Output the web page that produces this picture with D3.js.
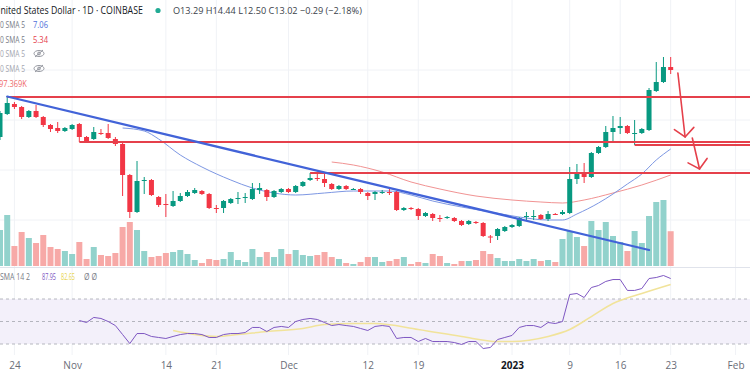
<!DOCTYPE html>
<html>
<head>
<meta charset="utf-8">
<script src="https://cdn.jsdelivr.net/npm/d3@7"></script>
<style>
  body { margin: 0; background: #fff; }
  svg { display: block; font-family: "Open Sans", Roboto, sans-serif; }
</style>
</head>
<body>
<svg id="chart" width="750" height="375"></svg>
<script>
// daily candles, first one is 2022-10-22
const startDay = '2022-10-22';
const opens = [10.32, 11.24, 11.64, 11.52, 11.12, 11.36, 11.12, 10.80, 10.68, 10.56,
  10.64, 10.84, 10.32, 10.24, 10.48, 10.48, 10.24, 10.04, 8.80, 7.32,
  8.58, 8.60, 7.92, 7.64, 7.56, 7.76, 7.96, 8.08, 8.16, 8.04,
  7.48, 7.48, 7.68, 7.86, 7.90, 7.84, 8.20, 8.20, 7.92, 8.12,
  8.24, 8.12, 8.36, 8.60, 8.68, 8.64, 8.44, 8.24, 8.36, 8.22,
  8.24, 8.08, 8.04, 8.08, 8.12, 8.12, 7.40, 7.48, 7.44, 7.16,
  7.24, 7.08, 7.10, 7.08, 6.96, 6.84, 6.92, 6.88, 6.34, 6.36,
  6.56, 6.72, 6.76, 7.12, 7.14, 7.20, 7.04, 7.24, 7.24, 7.28,
  8.64, 8.88, 8.72, 9.68, 9.92, 10.52, 10.68, 10.76, 10.46, 10.48,
  10.60, 12.16, 12.52, 13.12];
const highs = [11.36, 11.96, 11.72, 11.56, 11.40, 11.60, 11.16, 10.84, 10.92, 10.72,
  10.84, 10.88, 10.36, 10.72, 10.64, 10.84, 10.32, 10.08, 8.84, 9.36,
  8.72, 8.64, 7.96, 8.04, 8.16, 8.08, 8.20, 8.28, 8.20, 8.08,
  7.60, 7.80, 7.88, 8.12, 8.08, 8.48, 8.48, 8.24, 8.20, 8.28,
  8.28, 8.40, 8.56, 8.88, 8.88, 8.88, 8.48, 8.40, 8.40, 8.28,
  8.28, 8.12, 8.16, 8.20, 8.28, 8.16, 7.52, 7.52, 7.48, 7.32,
  7.28, 7.20, 7.16, 7.12, 7.00, 7.00, 6.96, 6.92, 6.40, 6.68,
  6.76, 6.84, 7.12, 7.32, 7.40, 7.24, 7.36, 7.28, 7.40, 9.12,
  9.24, 9.28, 9.72, 9.96, 10.76, 11.16, 11.12, 10.80, 11.00, 10.68,
  12.28, 13.32, 13.52, 13.52];
const lows = [10.20, 11.20, 11.44, 11.04, 11.08, 11.08, 10.72, 10.52, 10.48, 10.52,
  10.60, 10.12, 10.12, 10.20, 10.40, 10.24, 9.96, 7.96, 7.08, 7.28,
  8.04, 7.96, 7.52, 7.12, 7.52, 7.72, 7.92, 8.04, 8.00, 7.44,
  7.28, 7.28, 7.64, 7.64, 7.68, 7.80, 8.04, 7.76, 7.88, 8.08,
  8.08, 8.08, 8.32, 8.56, 8.56, 8.32, 8.20, 8.20, 8.20, 8.20,
  8.04, 7.80, 7.80, 8.04, 8.00, 7.36, 7.36, 7.40, 7.00, 7.12,
  6.96, 6.92, 7.04, 6.92, 6.76, 6.80, 6.84, 6.32, 6.08, 6.20,
  6.52, 6.68, 6.72, 7.00, 7.00, 7.00, 6.96, 7.20, 7.20, 7.24,
  8.44, 8.48, 8.68, 9.64, 9.88, 10.12, 10.44, 10.44, 10.00, 10.44,
  10.56, 12.12, 12.48, 12.84];
const closes = [11.28, 11.68, 11.52, 11.12, 11.36, 11.12, 10.80, 10.64, 10.56, 10.68,
  10.80, 10.32, 10.16, 10.52, 10.46, 10.28, 10.04, 8.80, 7.32, 8.56,
  8.60, 8.00, 7.60, 7.62, 7.76, 7.96, 8.12, 8.20, 8.04, 7.48,
  7.46, 7.76, 7.84, 7.88, 7.92, 8.24, 8.28, 7.92, 8.16, 8.24,
  8.12, 8.36, 8.52, 8.68, 8.66, 8.48, 8.24, 8.36, 8.24, 8.24,
  8.12, 7.96, 8.12, 8.12, 8.10, 7.40, 7.48, 7.46, 7.16, 7.28,
  7.08, 7.06, 7.12, 6.96, 6.80, 6.96, 6.88, 6.36, 6.32, 6.64,
  6.72, 6.80, 7.08, 7.16, 7.16, 7.04, 7.24, 7.22, 7.32, 8.64,
  8.88, 8.72, 9.68, 9.92, 10.52, 10.68, 10.76, 10.48, 10.48, 10.64,
  12.20, 12.52, 13.12, 13.00];
// volume in K
const volumes = [100.8, 142.8, 56, 95.2, 78.4, 64.4, 86.8, 53.2, 47.6, 42,
  33.6, 67.2, 19.6, 53.2, 30.8, 28, 36.4, 109.2, 123.2, 100.8,
  42, 25.2, 28, 36.4, 39.2, 44.8, 33.6, 16.8, 8.4, 19.6,
  16.8, 19.6, 39.2, 16.8, 11.2, 47.6, 25.2, 39.2, 25.2, 47.6,
  33.6, 44.8, 30.8, 28, 30.8, 39.2, 25.2, 19.6, 8.4, 5.6,
  11.2, 25.2, 25.2, 11.2, 14, 19.6, 25.2, 5.6, 11.2, 8.4,
  33.6, 28, 8.4, 5.6, 14, 14, 16.8, 42, 33.6, 22.4,
  14, 14, 19.6, 14, 19.6, 14, 16.8, 11.2, 75.6, 98,
  81.2, 56, 126, 100.8, 123.2, 84, 67.2, 42, 98, 64.4,
  140, 179.2, 184.8, 97.4];

// moving averages
const blueMaDates = ['2022-11-08', '2022-11-11', '2022-11-13', '2022-11-16', '2022-11-19', '2022-11-23',
  '2022-11-26', '2022-11-29', '2022-12-02', '2022-12-06', '2022-12-10', '2022-12-15', '2022-12-18',
  '2022-12-21', '2022-12-25', '2022-12-29', '2023-01-02', '2023-01-06', '2023-01-08', '2023-01-10',
  '2023-01-13', '2023-01-15', '2023-01-17', '2023-01-19', '2023-01-21', '2023-01-23'];
const blueMaValues = [10.68, 10.56, 10.24, 9.60, 9.12, 8.60, 8.28, 8.08, 8.00, 8.08, 8.16, 8.16, 8.00,
  7.76, 7.52, 7.32, 7.12, 7.00, 7.00, 7.24, 7.68, 8.04, 8.44, 8.84, 9.40, 9.84];
const redMaDates = ['2022-12-07', '2022-12-10', '2022-12-14', '2022-12-18', '2022-12-22', '2022-12-27',
  '2023-01-01', '2023-01-05', '2023-01-08', '2023-01-11', '2023-01-15', '2023-01-19', '2023-01-23'];
const redMaValues = [9.32, 9.20, 8.92, 8.52, 8.24, 7.96, 7.80, 7.72, 7.68, 7.80, 8.08, 8.40, 8.80];

// drawings
const trendDates = ['2022-10-23', '2023-01-20'];
const trendPrices = [11.94, 5.80];
const levelStarts = ['2022-10-23', '2022-11-02', '2023-01-18', '2022-12-04'];
const levelPrices = [11.92, 10.12, 10.00, 8.88];
const arrowFromDates = ['2023-01-24', '2023-01-26'];
const arrowFromPrices = [12.88, 10.28];
const arrowToDates = ['2023-01-25', '2023-01-27'];
const arrowToPrices = [10.32, 9.04];

// RSI pane, daily from 2022-11-02
const rsiStart = '2022-11-02';
const rsiValues = [50.9, 49.1, 53.6, 52.7, 50.0, 46.4, 38.4, 30.4, 39.3, 39.3,
  36.7, 35.8, 34.9, 36.7, 38.4, 39.3, 39.3, 38.4, 35.8, 35.8,
  38.4, 39.3, 39.3, 40.2, 44.7, 44.7, 41.1, 44.7, 45.6, 44.7,
  50.0, 51.8, 52.7, 51.8, 49.1, 46.4, 47.3, 46.4, 45.6, 43.8,
  42.0, 45.6, 46.4, 45.6, 34.9, 35.8, 35.8, 32.2, 34.9, 32.2,
  32.2, 32.2, 31.3, 29.6, 32.2, 32.2, 26.0, 26.9, 34.0, 35.8,
  37.6, 44.7, 46.4, 46.4, 44.7, 49.1, 48.2, 50.0, 74.0, 74.9,
  71.3, 80.2, 82.0, 85.6, 87.3, 87.3, 77.6, 77.6, 79.3, 88.2,
  89.1, 90.9, 88.2];
const rsiMaDates = ['2022-11-15', '2022-11-21', '2022-11-24', '2022-11-28', '2022-12-03', '2022-12-06',
  '2022-12-10', '2022-12-13', '2022-12-19', '2022-12-25', '2022-12-30', '2023-01-01', '2023-01-06',
  '2023-01-09', '2023-01-12', '2023-01-15', '2023-01-19', '2023-01-23'];
const rsiMaValues = [42.0, 36.7, 38.4, 41.1, 43.8, 47.3, 48.2, 48.2, 42.9, 36.7, 32.2, 32.2, 36.7,
  42.9, 54.4, 66.0, 74.9, 82.9];
const rsiLevels = [70, 50, 30];

const tickDates = ['2022-10-24', '2022-11-01', '2022-11-14', '2022-11-21', '2022-12-01', '2022-12-12',
  '2022-12-19', '2023-01-01', '2023-01-09', '2023-01-16', '2023-01-23', '2023-02-01'];
const tickLabels = ['24', 'Nov', '14', '21', 'Dec', '12', '19', '2023', '9', '16', '23', 'Feb'];

const parse = d3.utcParse('%Y-%m-%d');
const dates = closes.map((_, i) => d3.utcDay.offset(parse(startDay), i));
const candles = dates.map((d, i) => ({
  date: d, o: opens[i], h: highs[i], l: lows[i], c: closes[i], v: volumes[i]
}));

const upColor = '#089981';
const downColor = '#f23645';
const W = 750, H = 375;
const paneBottom = 266;

const svg = d3.select('#chart');

const x = d3.scaleUtc()
  .domain([parse('2022-10-22'), parse('2023-02-03')])
  .range([0, W]);
const y = d3.scaleLinear().domain([0, 15.8]).range([395, 0]);
const yVol = d3.scaleLinear().domain([0, 280]).range([paneBottom, 166]);
const yRsi = d3.scaleLinear().domain([30, 70]).range([344, 299]);

// grid
const ticks = tickDates.map(parse);
svg.append('g')
  .selectAll('line')
  .data(ticks)
  .enter()
  .append('line')
  .attr('x1', d => x(d)).attr('x2', d => x(d))
  .attr('y1', 0).attr('y2', 355)
  .attr('stroke', '#f0f2f6');
svg.append('g')
  .selectAll('line')
  .data([13, 11, 9, 7])
  .enter()
  .append('line')
  .attr('x1', 0).attr('x2', W)
  .attr('y1', d => y(d)).attr('y2', d => y(d))
  .attr('stroke', '#f0f2f6');

svg.append('clipPath').attr('id', 'pane')
  .append('rect').attr('x', 0).attr('y', 0).attr('width', W).attr('height', paneBottom);

const pane = svg.append('g').attr('clip-path', 'url(#pane)');

// volume
const barW = 6;
pane.append('g')
  .selectAll('rect')
  .data(candles)
  .enter()
  .append('rect')
  .attr('x', d => x(d.date) - barW / 2)
  .attr('y', d => yVol(d.v))
  .attr('width', barW)
  .attr('height', d => paneBottom - yVol(d.v))
  .attr('fill', d => d.c >= d.o ? '#92d2cc' : '#f7a9a7');

// moving averages
const maLine = d3.line()
  .x(d => x(d[0]))
  .y(d => y(d[1]))
  .curve(d3.curveMonotoneX);
pane.append('path')
  .datum(redMaDates.map((d, i) => [parse(d), redMaValues[i]]))
  .attr('d', maLine)
  .attr('fill', 'none')
  .attr('stroke', '#f19393')
  .attr('stroke-width', 1);
pane.append('path')
  .datum(blueMaDates.map((d, i) => [parse(d), blueMaValues[i]]))
  .attr('d', maLine)
  .attr('fill', 'none')
  .attr('stroke', '#7d97e3')
  .attr('stroke-width', 1);

// candles
const bodyW = 5;
const candleG = pane.append('g')
  .selectAll('g')
  .data(candles)
  .enter()
  .append('g');
candleG.append('line')
  .attr('x1', d => x(d.date)).attr('x2', d => x(d.date))
  .attr('y1', d => y(d.h)).attr('y2', d => y(d.l))
  .attr('stroke', d => d.c >= d.o ? upColor : downColor)
  .attr('stroke-width', 1);
candleG.append('rect')
  .attr('x', d => x(d.date) - bodyW / 2)
  .attr('y', d => y(Math.max(d.o, d.c)))
  .attr('width', bodyW)
  .attr('height', d => Math.max(1, Math.abs(y(d.o) - y(d.c))))
  .attr('fill', d => d.c >= d.o ? upColor : downColor);

// horizontal levels
pane.append('g')
  .selectAll('line')
  .data(levelPrices)
  .enter()
  .append('line')
  .attr('x1', (d, i) => x(parse(levelStarts[i])))
  .attr('x2', W)
  .attr('y1', d => y(d)).attr('y2', d => y(d))
  .attr('stroke', '#e5404b')
  .attr('stroke-width', 1.8);

// trend line
pane.append('line')
  .attr('x1', x(parse(trendDates[0]))).attr('y1', y(trendPrices[0]))
  .attr('x2', x(parse(trendDates[1]))).attr('y2', y(trendPrices[1]))
  .attr('stroke', '#4263d8')
  .attr('stroke-width', 2.2)
  .attr('stroke-linecap', 'round');

// hand drawn arrows
const arrowG = pane.append('g')
  .attr('stroke', '#e5404b')
  .attr('stroke-width', 1.6)
  .attr('stroke-linecap', 'round')
  .attr('fill', 'none');
arrowFromDates.forEach((d, i) => {
  const x0 = x(parse(d)), y0 = y(arrowFromPrices[i]);
  const x1 = x(parse(arrowToDates[i])), y1 = y(arrowToPrices[i]);
  const a = Math.atan2(y1 - y0, x1 - x0);
  const len = 13, spread = 0.85;
  arrowG.append('line').attr('x1', x0).attr('y1', y0).attr('x2', x1).attr('y2', y1);
  arrowG.append('path')
    .attr('d', `M${x1 - len * Math.cos(a - spread)},${y1 - len * Math.sin(a - spread)}L${x1},${y1}L${x1 - len * Math.cos(a + spread)},${y1 - len * Math.sin(a + spread)}`);
});

// pane separator
svg.append('line')
  .attr('x1', 0).attr('x2', W).attr('y1', 267.5).attr('y2', 267.5)
  .attr('stroke', '#e0e3eb');

// RSI pane
svg.append('rect')
  .attr('x', 0).attr('width', W)
  .attr('y', yRsi(70)).attr('height', yRsi(30) - yRsi(70))
  .attr('fill', '#f3f0fa');
svg.append('g')
  .selectAll('line')
  .data(rsiLevels)
  .enter()
  .append('line')
  .attr('x1', 0).attr('x2', W)
  .attr('y1', d => yRsi(d)).attr('y2', d => yRsi(d))
  .attr('stroke', '#a3a6af')
  .attr('stroke-width', 0.8)
  .attr('stroke-dasharray', '3,3');

const rsiLine = d3.line().x(d => x(d[0])).y(d => yRsi(d[1]));
svg.append('path')
  .datum(rsiMaDates.map((d, i) => [parse(d), rsiMaValues[i]]))
  .attr('d', rsiLine.curve(d3.curveMonotoneX))
  .attr('fill', 'none')
  .attr('stroke', '#f1e39a')
  .attr('stroke-width', 1.5);
svg.append('path')
  .datum(rsiValues.map((v, i) => [d3.utcDay.offset(parse(rsiStart), i), v]))
  .attr('d', d3.line().x(d => x(d[0])).y(d => yRsi(d[1])))
  .attr('fill', 'none')
  .attr('stroke', '#7e57c2')
  .attr('stroke-width', 1);

// time axis
const axis = svg.append('g')
  .attr('transform', 'translate(0,358)')
  .call(d3.axisBottom(x).tickValues(ticks).tickSize(0).tickFormat((d, i) => tickLabels[i]));
axis.select('.domain').remove();
axis.selectAll('text')
  .attr('dy', '0.75em')
  .attr('font-family', '"Open Sans", Roboto, sans-serif')
  .attr('font-size', 10)
  .attr('fill', '#6a6d78')
  .attr('font-weight', (d, i) => tickLabels[i] === '2023' ? 700 : 400)
  .filter((d, i) => tickLabels[i] === '2023').attr('fill', '#131722');

// legends: the screenshot is squeezed sideways, so each text is scaled to its width
function label(txt, x0, yb, size, color, len) {
  const t = svg.append('text')
    .attr('font-size', size)
    .attr('fill', color)
    .text(txt);
  const sx = len ? len / t.node().getComputedTextLength() : 1;
  t.attr('transform', `translate(${x0},${yb}) scale(${sx},1)`);
  return t;
}
function eye(cx, cy) {
  const g = svg.append('g').attr('stroke', '#8a8d96').attr('fill', 'none').attr('stroke-width', 0.9);
  g.append('ellipse').attr('cx', cx).attr('cy', cy).attr('rx', 5).attr('ry', 3);
  g.append('circle').attr('cx', cx).attr('cy', cy).attr('r', 1.4);
  g.append('line').attr('x1', cx - 4).attr('y1', cy + 3.5).attr('x2', cx + 4).attr('y2', cy - 3.5);
}

label('United States Dollar · 1D · COINBASE', -6, 14, 11, '#131722', 149);
svg.append('circle').attr('cx', 158).attr('cy', 10.5).attr('r', 2.6).attr('fill', '#22ab94');
label('O13.29 H14.44 L12.50 C13.02 −0.29 (−2.18%)', 173, 14, 9.5, '#3b3f4a', 189);

label('0 SMA 5', 0, 28, 9.5, '#787b86', 25);
label('7.06', 33, 28, 9.5, '#4f6fd9', 15);
label('0 SMA 5', 0, 43, 9.5, '#787b86', 25);
label('5.34', 33, 43, 9.5, '#e5404b', 15);
label('0 SMA 5', 0, 57, 9.5, '#a3a6af', 25);
eye(39, 53.5);
label('0 SMA 5', 0, 72, 9.5, '#a3a6af', 25);
eye(39, 68.5);
label('97.369K', -1, 87, 9.5, '#ef6a6a', 28);

label('SMA 14 2', 0, 280, 9, '#787b86', 30);
label('87.95', 42, 280, 9, '#7e57c2', 14);
label('82.65', 61, 280, 9, '#e8d44d', 14);
label('Ø Ø', 84, 280, 9, '#787b86', 13);
</script>
</body>
</html>
